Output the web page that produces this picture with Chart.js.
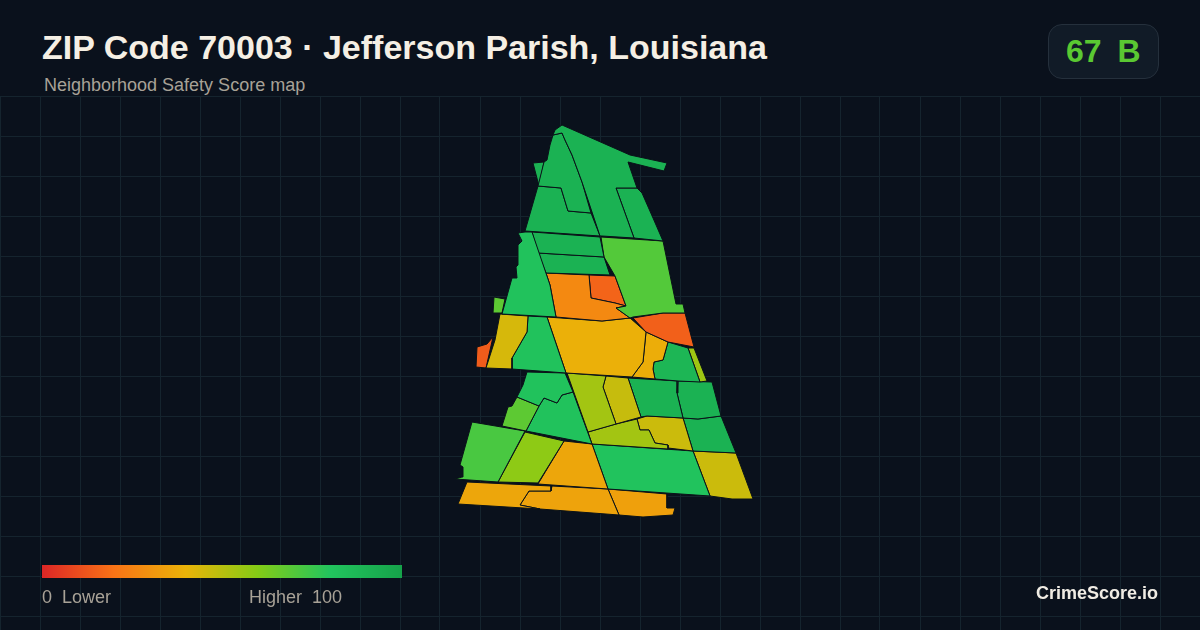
<!DOCTYPE html>
<html>
<head>
<meta charset="utf-8">
<title>ZIP Code 70003</title>
<script src="https://cdn.jsdelivr.net/npm/chart.js@4"></script>
<style>
html, body { margin: 0; padding: 0; background: #0a111c; }
body { position: relative; width: 1200px; height: 630px; overflow: hidden; font-family: "Liberation Sans", Arial, sans-serif; }
#map { position: absolute; left: 0; top: 96px; }
.txt { position: absolute; white-space: pre; }
#title { left: 42px; top: 27px; font-size: 34px; font-weight: bold; line-height: 40px; color: #f5efe4; }
#sub { left: 44px; top: 75px; font-size: 18px; line-height: 20px; color: #a8a297; }
#badge { position: absolute; left: 1048px; top: 24px; width: 109px; height: 53px; border: 1px solid #25303c; border-radius: 14px; background: #111b27; }
#grade { left: 1066px; top: 32px; font-size: 32px; font-weight: bold; line-height: 38px; color: #5ac832; word-spacing: -1px; }
#bar { position: absolute; left: 42px; top: 565px; width: 360px; height: 13px; }
#lo { left: 42px; top: 587px; font-size: 18px; line-height: 20px; color: #a8a297; }
#hi { left: 249px; top: 587px; font-size: 18px; line-height: 20px; color: #a8a297; }
#brand { left: 1036px; top: 583px; font-size: 18px; font-weight: bold; line-height: 20px; color: #f0ece4; }
</style>
</head>
<body>
<canvas id="map" width="1200" height="534"></canvas>
<div class="txt" id="title">ZIP Code 70003 · Jefferson Parish, Louisiana</div>
<div class="txt" id="sub">Neighborhood Safety Score map</div>
<div id="badge"></div>
<div class="txt" id="grade">67  B</div>
<div id="bar"></div>
<div class="txt" id="lo">0  Lower</div>
<div class="txt" id="hi">Higher  100</div>
<div class="txt" id="brand">CrimeScore.io</div>
<script>
// score scale, same stops as the legend bar
var scaleStops = [0, 20, 40, 60, 80, 100];
var scaleColors = ['#dc2626', '#f97316', '#eab308', '#84cc16', '#22c55e', '#16a34a'];

var gridX = [0, 40, 80, 120, 160, 200, 240, 280, 320, 360, 400, 440, 480, 520, 560, 600, 640, 680, 720, 760, 800, 840, 880, 920, 960, 1000, 1040, 1080, 1120, 1160, 1200];
var gridY = [96, 136, 176, 216, 256, 296, 336, 376, 416, 456, 496, 536, 576, 616];

// one score per tract
var tractScores = [
    91, 91, 91, 91, 91,
    82, 91, 91, 70, 27, 16, 15,
    44, 82, 68, 14, 39, 38, 89, 55,
    82, 54, 47, 91, 91, 68, 82, 54, 46, 91,
    72, 58, 36, 81, 46,
    36, 35, 34
];

// tract outlines in map units
var tractOutlines = [
    [[555,130],[562,125],[630,155],[667,163],[664,171],[628,162],[637,188],[616,188],[634,238],[602,236],[600,236],[582,182],[572,155],[565,140],[562,133],[553,135]],
    [[616,188],[637,188],[642,193],[653,218],[663,241],[634,238]],
    [[553,135],[562,133],[565,140],[572,155],[582,182],[591,213],[568,211],[561,188],[538,186],[544,162],[547,160],[550,145]],
    [[533,163],[544,162],[539,186]],
    [[538,186],[561,188],[568,211],[591,213],[600,236],[525,231]],

    [[518,233],[525,232],[532,232],[550,285],[556,317],[502,314],[512,278],[517,278],[516,267],[518,265],[518,245],[522,241]],
    [[532,232],[600,237],[604,257],[538,253]],
    [[538,253],[604,257],[610,275],[546,273]],
    [[601,237],[663,241],[670,275],[676,304],[683,304],[685,313],[663,313],[633,317],[630,318],[616,308],[626,306],[615,276],[604,257]],
    [[546,273],[589,275],[591,298],[615,303],[626,306],[616,308],[630,318],[602,321],[556,317],[550,285]],
    [[589,275],[615,276],[626,306],[615,303],[591,298]],
    [[633,318],[663,313],[685,313],[694,347],[668,342],[646,332]],

    [[500,314],[528,316],[527,332],[512,358],[512,369],[486,368],[495,340]],
    [[528,316],[547,317],[566,373],[512,369],[512,358],[527,332]],
    [[494,297],[505,299],[502,313],[493,313]],
    [[493,337],[486,368],[476,367],[477,347],[487,344]],
    [[547,317],[602,321],[630,318],[646,332],[643,362],[632,377],[566,373]],
    [[646,332],[668,342],[663,360],[654,362],[653,369],[655,379],[632,377],[643,362]],
    [[668,342],[688,348],[700,382],[678,381],[655,379],[653,369],[654,362],[663,360]],
    [[688,348],[694,348],[707,381],[700,382]],

    [[527,372],[565,373],[573,392],[562,395],[557,403],[544,398],[539,406],[517,397],[523,385]],
    [[567,373],[606,376],[603,387],[616,424],[588,432]],
    [[606,376],[628,378],[641,417],[616,424],[603,387]],
    [[628,378],[678,381],[677,393],[683,418],[647,416],[641,417]],
    [[678,381],[712,382],[721,416],[698,419],[683,418],[677,393]],
    [[517,397],[539,406],[526,431],[502,426],[508,407],[512,406]],
    [[544,398],[557,403],[562,395],[573,392],[592,444],[526,431],[539,406]],
    [[588,432],[616,424],[637,419],[640,430],[649,430],[655,443],[668,445],[668,449],[592,444]],
    [[637,419],[647,416],[683,418],[693,451],[668,448],[668,445],[655,443],[649,430],[640,430]],
    [[683,418],[698,419],[721,416],[736,453],[693,451]],

    [[472,422],[525,431],[498,482],[455,479],[462,477],[463,467],[460,465]],
    [[525,432],[564,441],[538,483],[498,482]],
    [[564,441],[592,444],[608,489],[538,484]],
    [[592,444],[693,451],[710,496],[608,489]],
    [[693,451],[736,453],[753,499],[732,499],[710,496]],

    [[467,482],[551,486],[551,491],[529,491],[520,505],[540,509],[458,504]],
    [[552,486],[608,489],[619,515],[540,509],[520,505],[529,491],[551,491]],
    [[608,489],[667,494],[667,508],[675,508],[673,515],[643,517],[619,515]]
];

function scoreColor(score) {
    var i = 0;
    while (i < scaleStops.length - 2 && score > scaleStops[i + 1]) i++;
    var t = (score - scaleStops[i]) / (scaleStops[i + 1] - scaleStops[i]);
    var rgb = [1, 3, 5].map(function (p) {
        var a = parseInt(scaleColors[i].substr(p, 2), 16);
        var b = parseInt(scaleColors[i + 1].substr(p, 2), 16);
        return Math.round(a + (b - a) * t);
    });
    return 'rgb(' + rgb.join(',') + ')';
}

document.getElementById('bar').style.background = 'linear-gradient(to right, ' + scaleColors.map(function (c, i) {
    return c + ' ' + scaleStops[i] + '%';
}).join(', ') + ')';

var datasets = tractOutlines.map(function (outline, i) {
    var pts = outline.concat([outline[0]]).map(function (p) { return { x: p[0], y: p[1] }; });
    return {
        data: pts,
        showLine: true,
        fill: 'shape',
        backgroundColor: scoreColor(tractScores[i]),
        borderColor: '#0a1219',
        borderWidth: 1,
        pointRadius: 0,
        tension: 0
    };
});

function gridAxis(values, min, max, reverse) {
    return {
        type: 'linear', min: min, max: max, reverse: reverse,
        afterBuildTicks: function (axis) {
            axis.ticks = values.map(function (v) { return { value: v }; });
        },
        grid: { color: '#15242e', lineWidth: 1, drawTicks: false },
        border: { display: false },
        ticks: { display: false }
    };
}

new Chart(document.getElementById('map'), {
    type: 'scatter',
    data: { datasets: datasets },
    options: {
        responsive: false, animation: false, events: [],
        layout: { padding: 0 },
        plugins: {
            legend: { display: false },
            tooltip: { enabled: false },
            filler: { drawTime: 'beforeDatasetDraw' }
        },
        scales: {
            x: gridAxis(gridX, 0, 1200, false),
            y: gridAxis(gridY, 96, 630, true)
        }
    }
});
</script>
</body>
</html>
